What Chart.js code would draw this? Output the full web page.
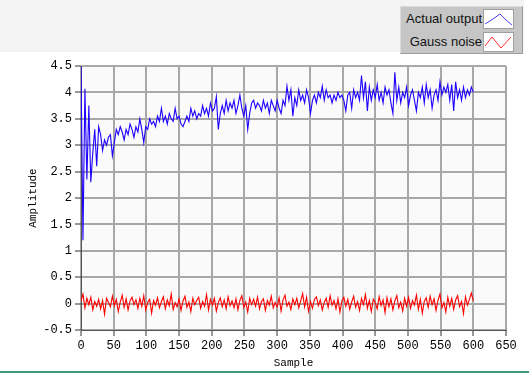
<!DOCTYPE html>
<html>
<head>
<meta charset="utf-8">
<script src="https://cdn.jsdelivr.net/npm/chart.js"></script>
<style>
    body { margin: 0; background: #ffffff; }
    #wrap { position: relative; width: 529px; height: 374px; overflow: hidden; }
    #band { position: absolute; left: 0; top: 0; width: 524px; height: 52px; background: #f3f3f3; }
    #legend {
        position: absolute; left: 400px; top: 6px; width: 121px; height: 46px;
        background: #c6c6c6; border: 1px solid #dcdcdc; border-right-color: #9c9c9c; border-bottom-color: #9c9c9c;
        font-family: "Liberation Sans", Arial, sans-serif; font-size: 13px; color: #111;
    }
    .row { position: absolute; right: 8px; height: 20px; line-height: 20px; }
    .row span { display: inline-block; vertical-align: top; margin-right: 1px; }
    .row svg { display: inline-block; vertical-align: top; background: #fff; border: 1px solid #a0a0a0; }
    #greenline { position: absolute; left: 0; top: 371px; width: 529px; height: 2px; background: #3c9a78; }
    canvas { position: absolute; left: 0; top: 0; }
</style>
</head>
<body>
<div id="wrap">
    <div id="band"></div>
    <div id="legend">
        <div class="row" style="top:2px"><span>Actual output</span><svg width="29" height="18"><polyline points="1,14 9,9 16,4 22,10 28,15" fill="none" stroke="#4a3cff" stroke-width="1"/></svg></div>
        <div class="row" style="top:25px"><span>Gauss noise</span><svg width="29" height="18"><polyline points="1,13 8,4 17,15 27,4" fill="none" stroke="#ff3030" stroke-width="1"/></svg></div>
    </div>
    <div id="greenline"></div>
    <canvas id="myChart" width="529" height="374"></canvas>
</div>
<script>
// samples every 3 points, 0..600
var step = 3;

var actualOutput = [
    4.5, 1.2, 4.07, 2.35, 3.75, 2.3, 2.85, 3.3, 2.6, 3.35,
    3.2, 2.9, 3.1, 3.0, 3.15, 3.2, 2.8, 3.05, 3.3, 3.2,
    3.35, 3.25, 3.1, 3.3, 3.2, 3.4, 3.3, 3.15, 3.35, 3.25,
    3.5, 3.3, 3.05, 3.35, 3.3, 3.5, 3.4, 3.45, 3.35, 3.55,
    3.45, 3.7, 3.45, 3.55, 3.4, 3.6, 3.5, 3.45, 3.7, 3.5,
    3.55, 3.4, 3.35, 3.45, 3.55, 3.45, 3.7, 3.55, 3.65, 3.5,
    3.6, 3.55, 3.75, 3.6, 3.7, 3.55, 3.8, 3.65, 3.7, 3.92,
    3.3, 3.6, 3.75, 3.6, 3.85, 3.65, 3.8, 3.7, 3.85, 3.6,
    3.75, 3.95, 3.7, 3.55, 3.75, 3.3, 3.6, 3.8, 3.85, 3.7,
    3.8, 3.75, 3.65, 3.85, 3.7, 3.8, 3.6, 3.85, 3.75, 3.65,
    3.85, 3.7, 3.6, 3.85, 3.75, 4.12, 3.85, 4.05, 3.55, 3.9,
    3.75, 4.05, 3.85, 3.95, 3.8, 4.05, 3.9, 3.6, 3.85, 3.95,
    3.8, 4.0, 3.9, 4.12, 3.85, 4.05, 3.9, 3.95, 3.8, 3.95,
    3.85, 4.0, 3.9, 3.95, 3.85, 3.65, 3.95, 4.0, 3.7, 4.05,
    3.9, 4.0, 3.85, 4.32, 3.9, 4.2, 3.65, 4.1, 3.85, 4.05,
    3.9, 4.15, 3.85, 4.0, 3.8, 4.1, 3.95, 4.05, 3.8, 3.6,
    4.38, 3.85, 4.1, 3.8, 4.0, 3.9, 4.1, 3.75, 3.95, 4.05,
    3.85, 3.65, 4.0, 3.9, 4.1, 3.8, 4.15, 3.9, 4.05, 3.7,
    3.95, 4.05, 3.85, 4.2, 3.95, 4.1, 4.0, 4.15, 3.85, 4.15,
    3.65, 4.2, 3.9, 4.05, 3.85, 4.1, 3.9, 4.05, 3.95, 4.1,
    4.0
];

var gaussNoise = [
    0.05, 0.18, -0.08, 0.1, -0.02, 0.12, -0.12, 0.04, -0.05, 0.08,
    -0.1, 0.06, -0.2, 0.1, 0.02, -0.06, 0.14, -0.04, 0.08, -0.15,
    0.03, 0.16, -0.07, 0.09, -0.12, 0.05, 0.12, -0.02, 0.07, -0.09,
    0.1, -0.05, 0.15, -0.12, 0.02, 0.08, -0.18, 0.06, -0.03, 0.11,
    -0.08, 0.04, 0.13, -0.1, 0.07, -0.04, 0.18, -0.11, 0.02, -0.06,
    0.09, -0.13, 0.05, 0.14, -0.07, 0.03, -0.15, 0.1, -0.02, 0.06,
    0.12, -0.09, 0.04, -0.05, 0.17, -0.12, 0.08, -0.03, 0.1, -0.14,
    0.02, 0.11, -0.06, 0.07, -0.1, 0.13, -0.04, 0.05, -0.08, 0.09,
    -0.12, 0.06, 0.15, -0.07, 0.03, -0.16, 0.1, -0.02, 0.08, -0.05,
    0.12, -0.1, 0.04, 0.09, -0.13, 0.06, -0.03, 0.14, -0.08, 0.02,
    -0.06, 0.11, -0.14, 0.07, 0.16, -0.05, 0.03, -0.11, 0.09, -0.02,
    0.1, -0.08, 0.05, 0.19, -0.06, 0.12, -0.15, 0.04, -0.09, 0.08,
    0.13, -0.04, 0.07, -0.12, 0.02, 0.1, -0.07, 0.15, -0.03, 0.06,
    -0.1, 0.09, -0.16, 0.05, 0.12, -0.05, 0.08, -0.11, 0.03, 0.14,
    -0.07, 0.04, -0.13, 0.1, -0.02, 0.17, -0.09, 0.06, -0.15, 0.08,
    0.02, -0.1, 0.13, -0.04, 0.07, -0.17, 0.11, -0.06, 0.09, -0.12,
    0.05, 0.15, -0.08, 0.03, -0.14, 0.1, -0.05, 0.12, -0.09, 0.06,
    -0.03, 0.16, -0.11, 0.08, -0.18, 0.04, 0.11, -0.07, 0.14, -0.02,
    0.09, -0.13, 0.06, 0.18, -0.08, 0.02, -0.16, 0.12, -0.05, 0.1,
    -0.11, 0.07, 0.15, -0.06, 0.04, -0.19, 0.13, -0.03, 0.08, 0.2,
    0.05
];

var xRange = [0, 650];
var yRange = [-0.5, 4.5];

function toPoints(values) {
    var pts = [];
    for (var i = 0; i < values.length; i++) {
        pts.push({ x: i * step, y: values[i] });
    }
    return pts;
}

// light plot background like the LabVIEW graph
var plotBg = {
    id: 'plotBg',
    beforeDraw: function (chart) {
        var a = chart.chartArea;
        var c = chart.ctx;
        c.save();
        c.fillStyle = '#fafafa';
        c.fillRect(a.left, a.top, a.right - a.left, a.bottom - a.top);
        c.restore();
    }
};

var monoFont = { family: '"Liberation Mono", "DejaVu Sans Mono", monospace', size: 12 };
var gridOpts = { color: '#a8a8a8', lineWidth: 2, tickLength: 6, tickColor: '#333', tickWidth: 1 };

// plain number labels: 4, 3.5, 3 ...
function plainLabel(value) {
    return String(Math.round(value * 10) / 10);
}

var ctx = document.getElementById('myChart').getContext('2d');
var chart = new Chart(ctx, {
    type: 'line',
    data: {
        datasets: [
            {
                label: 'Actual output',
                data: toPoints(actualOutput),
                borderColor: 'rgb(30, 0, 255)',
                borderWidth: 1.1,
                pointRadius: 0,
                tension: 0
            },
            {
                label: 'Gauss noise',
                data: toPoints(gaussNoise),
                borderColor: 'rgb(255, 0, 0)',
                borderWidth: 1.1,
                pointRadius: 0,
                tension: 0
            }
        ]
    },
    options: {
        responsive: false,
        animation: false,
        layout: { padding: { left: 26, top: 66, right: 23, bottom: 0 } },
        plugins: { legend: { display: false }, tooltip: { enabled: false } },
        scales: {
            x: {
                type: 'linear',
                min: xRange[0],
                max: xRange[1],
                ticks: { stepSize: 50, color: '#000', font: monoFont, padding: 3, maxRotation: 0, callback: plainLabel },
                grid: gridOpts,
                border: { color: '#555', width: 1 },
                title: { display: true, text: 'Sample', color: '#000', font: { family: monoFont.family, size: 11 }, padding: { top: 2, bottom: 4 } },
                afterFit: function (scale) { scale.height = 44; }
            },
            y: {
                min: yRange[0],
                max: yRange[1],
                ticks: { stepSize: 0.5, color: '#000', font: monoFont, padding: 3, callback: plainLabel },
                grid: gridOpts,
                border: { color: '#555', width: 1 },
                title: { display: true, text: 'Amplitude', color: '#000', font: { family: monoFont.family, size: 11 }, padding: { top: 0, bottom: 2 } },
                afterFit: function (scale) { scale.width = 55; }
            }
        }
    },
    plugins: [plotBg]
});
</script>
</body>
</html>
